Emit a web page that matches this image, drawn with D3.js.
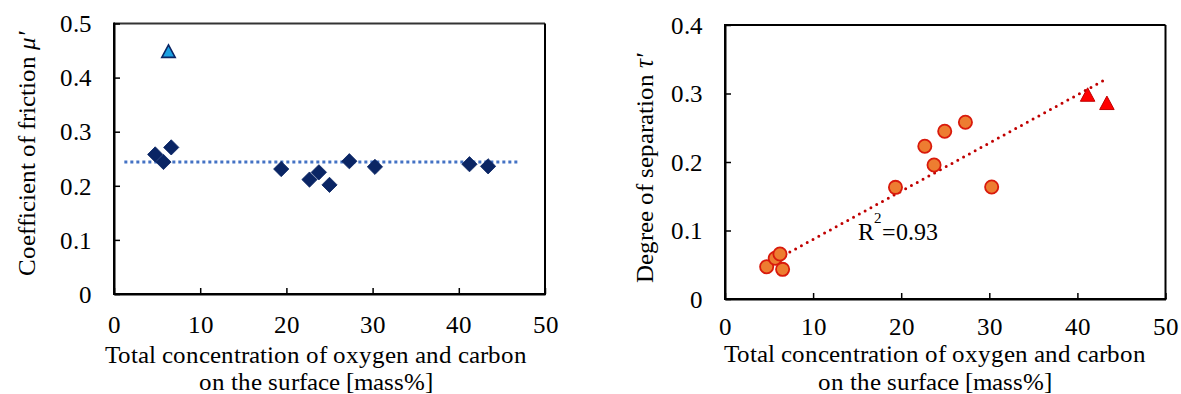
<!DOCTYPE html>
<html><head><meta charset="utf-8">
<script src="https://cdn.jsdelivr.net/npm/d3@7"></script>
<style>
@font-face{font-family:"RefSerif";src:local("Liberation Serif"),local("LiberationSerif"),local("LiberationSerif-Regular"),local("Times New Roman"),local("Tinos"),local("DejaVu Serif"),local("DejaVuSerif"),local("Noto Serif");font-style:normal;}
@font-face{font-family:"RefSerif";src:local("Liberation Serif Italic"),local("LiberationSerif-Italic"),local("Times New Roman Italic"),local("DejaVu Serif Italic"),local("DejaVuSerif-Italic"),local("Noto Serif Italic");font-style:italic;}
html,body{margin:0;padding:0;background:#fff;}
svg text{font-family:"RefSerif","Liberation Serif","Times New Roman",serif !important;fill:#000;}
</style></head>
<body>
<svg id="chart" width="1181" height="394"></svg>
<script>
// ---------- data ----------
const frictionX = [4.78, 5.74, 6.64, 19.4, 22.68, 23.77, 25.0, 27.3, 30.27, 41.24, 43.4];
const frictionY = [0.258, 0.244, 0.271, 0.231, 0.2115, 0.225, 0.2017, 0.2454, 0.235, 0.2399, 0.236];
const frictionTriX = [6.32];
const frictionTriY = [0.449];
const frictionLineX = [1.2, 47.1];
const frictionLineY = [0.244, 0.244];

const sepX = [4.73, 5.7, 6.24, 6.54, 19.35, 22.68, 23.73, 24.94, 27.29, 30.27];
const sepY = [0.047, 0.0594, 0.0657, 0.0433, 0.163, 0.223, 0.1956, 0.2448, 0.258, 0.1635];
const sepTriX = [41.16, 43.35];
const sepTriY = [0.2985, 0.2864];
const sepTrendX = [4.73, 43.2];
const sepTrendY = [0.050, 0.3205];
const r2Label = "=0.93";

const xTicks = [0, 10, 20, 30, 40, 50];
const leftYTicks = [0, 0.1, 0.2, 0.3, 0.4, 0.5];
const rightYTicks = [0, 0.1, 0.2, 0.3, 0.4];
const xTitle1 = "Total concentration of oxygen and carbon";
const xTitle2 = "on the surface [mass%]";

// ---------- drawing ----------
const svg = d3.select("#chart");
const FS = 25;
const FONT = '"RefSerif","Liberation Serif","Times New Roman",serif';

const boxTriangle = {
  draw(ctx, size) {
    const w = Math.sqrt(size);
    const h = w * 0.93;
    ctx.moveTo(0, -h / 2);
    ctx.lineTo(w / 2, h / 2);
    ctx.lineTo(-w / 2, h / 2);
    ctx.closePath();
  }
};

function panel(o) {
  const g = svg.append("g").attr("font-family", FONT);
  const x = d3.scaleLinear().domain([0, 50]).range([o.x0, o.x1]);
  const y = d3.scaleLinear().domain([0, o.yMax]).range([o.y0, o.y1]);

  g.append("line").attr("x1", o.x0).attr("x2", o.x1).attr("y1", o.y1).attr("y2", o.y1)
    .attr("stroke", o.topColor).attr("stroke-width", 2);
  g.append("line").attr("x1", o.x1).attr("x2", o.x1).attr("y1", o.y1).attr("y2", o.y0)
    .attr("stroke", "#000").attr("stroke-width", 2);

  const xa = g.append("g").attr("transform", `translate(0,${o.y0})`)
    .call(d3.axisBottom(x).tickValues(xTicks).tickFormat(d3.format("d"))
      .tickSizeInner(-6).tickSizeOuter(0));
  xa.attr("font-family", FONT).attr("font-size", FS);
  xa.select(".domain").attr("stroke-width", 2).attr("stroke", "#000");
  xa.selectAll(".tick line").attr("stroke-width", 1.5);
  xa.selectAll(".tick text").attr("y", o.xLabelBase).attr("dy", 0);

  const ya = g.append("g").attr("transform", `translate(${o.x0},0)`)
    .call(d3.axisLeft(y).tickValues(o.yTicks).tickFormat(d => d === 0 ? "0" : d3.format(".1f")(d))
      .tickSizeInner(-6).tickSizeOuter(0));
  ya.attr("font-family", FONT).attr("font-size", FS);
  ya.select(".domain").attr("stroke-width", 2).attr("stroke", "#000");
  ya.selectAll(".tick line").attr("stroke-width", 1.5);
  ya.selectAll(".tick text").attr("x", -22).attr("dy", "0.33em");
  g.append("line").attr("x1", o.x0).attr("x2", o.x0).attr("y1", o.y1 - 1).attr("y2", o.y0 + 1)
    .attr("stroke", "#000").attr("stroke-width", 2);
  g.append("line").attr("x1", o.x0 - 1).attr("x2", o.x1 + 1).attr("y1", o.y0).attr("y2", o.y0)
    .attr("stroke", "#000").attr("stroke-width", 2);

  g.append("text").attr("x", o.titleCx).attr("y", o.title1Base).attr("text-anchor", "middle")
    .attr("font-size", FS).text(xTitle1);
  g.append("text").attr("x", o.titleCx).attr("y", o.title2Base).attr("text-anchor", "middle")
    .attr("font-size", FS).text(xTitle2);

  const yt = g.append("text")
    .attr("transform", `translate(${o.yTitleX},${o.yTitleCy}) rotate(-90)`)
    .attr("text-anchor", "middle").attr("font-size", FS);
  yt.append("tspan").text(o.yTitle + " ");
  yt.append("tspan").attr("font-style", "italic").text(o.yTitleSym);

  return { g, x, y };
}

const L = panel({
  x0: 114, x1: 545, y0: 294, y1: 23.5, yMax: 0.5, yTicks: leftYTicks,
  xLabelBase: 39, titleCx: 316, title1Base: 363, title2Base: 390,
  yTitleX: 35, yTitleCy: 154, yTitle: "Coefficient of friction", yTitleSym: "\u03BC\u2032",
  topColor: "#333"
});

L.g.append("path")
  .datum(frictionLineX.map((d, i) => [d, frictionLineY[i]]))
  .attr("d", d3.line().x(d => L.x(d[0])).y(d => L.y(d[1])))
  .attr("fill", "none").attr("stroke", "#4472C4").attr("stroke-width", 3)
  .attr("stroke-dasharray", "3,3");

L.g.selectAll(".dia").data(frictionX.map((d, i) => [d, frictionY[i]])).join("path")
  .attr("transform", d => `translate(${L.x(d[0])},${L.y(d[1])}) rotate(45)`)
  .attr("d", d3.symbol(d3.symbolSquare, 116))
  .attr("fill", "#0A2564").attr("stroke", "#0A2564").attr("stroke-width", 0.8);

L.g.selectAll(".tri").data(frictionTriX.map((d, i) => [d, frictionTriY[i]])).join("path")
  .attr("transform", d => `translate(${L.x(d[0])},${L.y(d[1])})`)
  .attr("d", d3.symbol(boxTriangle, 180))
  .attr("fill", "#1BA1E2").attr("stroke", "#0A2564").attr("stroke-width", 1.6);

const R = panel({
  x0: 725, x1: 1165.5, y0: 299, y1: 25, yMax: 0.4, yTicks: rightYTicks,
  xLabelBase: 36, titleCx: 935, title1Base: 362, title2Base: 390,
  yTitleX: 653, yTitleCy: 168, yTitle: "Degree of separation", yTitleSym: "\u03C4\u2032",
  topColor: "#000"
});

R.g.append("path")
  .datum(sepTrendX.map((d, i) => [d, sepTrendY[i]]))
  .attr("d", d3.line().x(d => R.x(d[0])).y(d => R.y(d[1])))
  .attr("fill", "none").attr("stroke", "#C00000").attr("stroke-width", 3)
  .attr("stroke-linecap", "round").attr("stroke-dasharray", "0,6.6");

R.g.selectAll(".circ").data(sepX.map((d, i) => [d, sepY[i]])).join("circle")
  .attr("cx", d => R.x(d[0])).attr("cy", d => R.y(d[1])).attr("r", 6.6)
  .attr("fill", "#ED7D31").attr("stroke", "#D91A0C").attr("stroke-width", 1.8);

R.g.selectAll(".rtri").data(sepTriX.map((d, i) => [d, sepTriY[i]])).join("path")
  .attr("transform", d => `translate(${R.x(d[0])},${R.y(d[1])})`)
  .attr("d", d3.symbol(boxTriangle, 210))
  .attr("fill", "#FF0000").attr("stroke", "#C00000").attr("stroke-width", 1);

const r2 = R.g.append("text").attr("x", 857.5).attr("y", 240).attr("font-size", 24);
r2.append("tspan").text("R");
r2.append("tspan").attr("dy", -17).attr("font-size", 15).text("2");
r2.append("tspan").attr("dy", 17).text(r2Label);
</script>
</body></html>
